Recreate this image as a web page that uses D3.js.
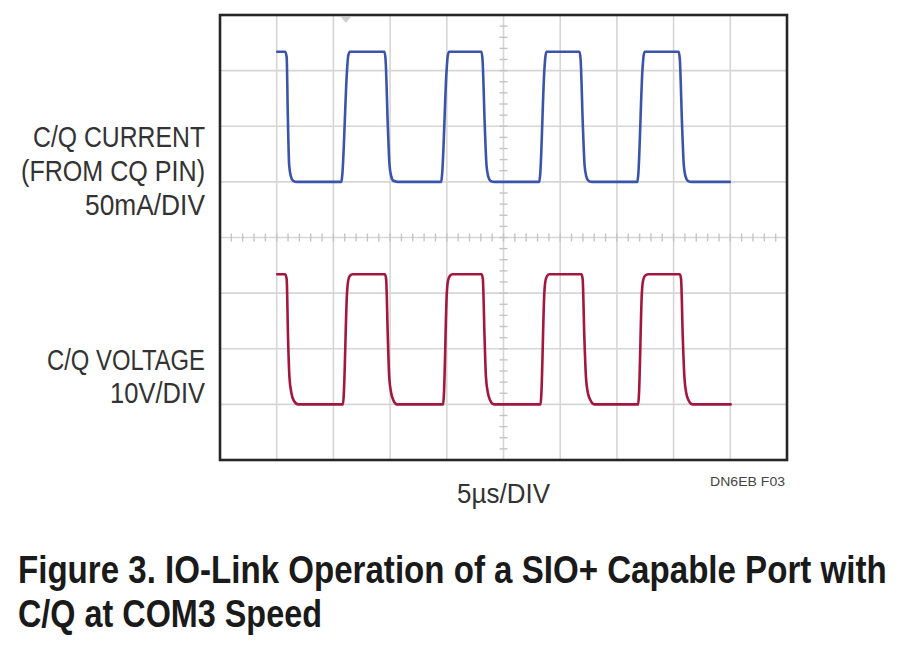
<!DOCTYPE html>
<html>
<head>
<meta charset="utf-8">
<script src="https://cdn.jsdelivr.net/npm/d3@7"></script>
<style>
  html, body { margin: 0; padding: 0; background: #ffffff; }
  svg { display: block; }
</style>
</head>
<body>
<svg id="chart" width="900" height="645"></svg>
<script>
// ---- Data ----
// Time axis: 5 µs/DIV, 10 divisions
const timeTicks = [0, 5, 10, 15, 20, 25, 30, 35, 40, 45, 50];
const divTicks = [-4, -3, -2, -1, 0, 1, 2, 3, 4];

// C/Q current (mA), 50 mA/DIV, zero reference at +1 div
const currentTimes  = [5.05, 5.75, 5.88, 5.98, 6.1, 6.25, 6.45, 6.8,
  10.7, 10.78, 11.2, 11.3, 11.45,
  14.5, 14.6, 14.8, 14.95, 15.1, 15.3, 15.7,
  19.5, 19.58, 19.98, 20.08, 20.2,
  23.05, 23.15, 23.35, 23.5, 23.65, 23.85, 24.2,
  28.15, 28.23, 28.6, 28.7, 28.8,
  31.7, 31.8, 32.0, 32.15, 32.3, 32.5, 32.85,
  36.8, 36.88, 37.25, 37.35, 37.45,
  40.45, 40.55, 40.75, 40.9, 41.05, 41.25, 41.6,
  44.95];
const currentValues = [117, 117, 112, 60, 15, 5, 1, 0,
  0, 6, 100, 113, 117,
  117, 110, 50, 15, 5, 1, 0,
  0, 6, 100, 113, 117,
  117, 110, 50, 15, 5, 1, 0,
  0, 6, 100, 113, 117,
  117, 110, 50, 15, 5, 1, 0,
  0, 6, 100, 113, 117,
  117, 110, 50, 15, 5, 1, 0,
  0];

// C/Q voltage (V), 10 V/DIV, zero reference at -3 div
const voltageTimes  = [5.05, 5.75, 5.88, 6.0, 6.12, 6.3, 6.5, 6.9,
  10.85, 10.92, 11.2, 11.3, 11.45, 11.7,
  14.55, 14.65, 14.8, 14.92, 15.1, 15.3, 15.6,
  19.68, 19.75, 20.0, 20.1, 20.27, 20.52,
  23.08, 23.18, 23.33, 23.45, 23.63, 23.83, 24.15,
  28.27, 28.34, 28.6, 28.7, 28.85, 29.05,
  31.88, 31.98, 32.13, 32.27, 32.45, 32.68, 33.0,
  36.88, 36.95, 37.2, 37.3, 37.47, 37.75,
  40.56, 40.66, 40.81, 40.95, 41.12, 41.33, 41.65,
  45.03];
const voltageValues = [23.4, 23.4, 22.5, 12, 5, 2, 0.7, 0,
  0, 2, 20, 22.2, 23.1, 23.4,
  23.4, 22.5, 12, 5, 2, 0.7, 0,
  0, 2, 20, 22.2, 23.1, 23.4,
  23.4, 22.5, 12, 5, 2, 0.7, 0,
  0, 2, 20, 22.2, 23.1, 23.4,
  23.4, 22.5, 12, 5, 2, 0.7, 0,
  0, 2, 20, 22.2, 23.1, 23.4,
  23.4, 22.5, 12, 5, 2, 0.7, 0,
  0];

const currentLabel = ["C/Q CURRENT", "(FROM CQ PIN)", "50mA/DIV"];
const voltageLabel = ["C/Q VOLTAGE", "10V/DIV"];
const xLabel = "5µs/DIV";
const figCode = "DN6EB F03";
const caption = ["Figure 3. IO-Link Operation of a SIO+ Capable Port with", "C/Q at COM3 Speed"];

// ---- Drawing ----
const svg = d3.select("#chart");
const L = 220, R = 787, T = 15, B = 460;

const x = d3.scaleLinear().domain([0, 50]).range([L, R]);
const yDiv = d3.scaleLinear().domain([-4, 4]).range([B, T]);
const yCur = d3.scaleLinear().domain([-250, 150]).range([B, T]);
const yVolt = d3.scaleLinear().domain([-10, 70]).range([B, T]);

const grid = svg.append("g");
grid.selectAll("line.v").data(timeTicks.slice(1, -1)).enter().append("line")
  .attr("x1", d => x(d)).attr("x2", d => x(d))
  .attr("y1", T).attr("y2", B)
  .attr("stroke", "#d6d6d6").attr("stroke-width", 1.6);
grid.selectAll("line.h").data(divTicks.slice(1, -1)).enter().append("line")
  .attr("x1", L).attr("x2", R)
  .attr("y1", d => yDiv(d)).attr("y2", d => yDiv(d))
  .attr("stroke", "#d6d6d6").attr("stroke-width", 1.6);

// minor ticks on the centre axes (5 per division)
const hMinor = d3.range(0, 50.01, 1);
grid.selectAll("line.hm").data(hMinor).enter().append("line")
  .attr("x1", d => x(d)).attr("x2", d => x(d))
  .attr("y1", yDiv(0) - 4).attr("y2", yDiv(0) + 4)
  .attr("stroke", "#c4c4c4").attr("stroke-width", 1.4);
const vMinor = d3.range(-4, 4.01, 0.2);
grid.selectAll("line.vm").data(vMinor).enter().append("line")
  .attr("x1", x(25) - 4).attr("x2", x(25) + 4)
  .attr("y1", d => yDiv(d)).attr("y2", d => yDiv(d))
  .attr("stroke", "#c4c4c4").attr("stroke-width", 1.4);

// trigger marker
svg.append("path")
  .attr("d", `M${x(11.1) - 5},${T + 2} L${x(11.1) + 5},${T + 2} L${x(11.1)},${T + 8} Z`)
  .attr("fill", "#cfcfcf");

// traces
const curData = currentTimes.map((t, i) => [t, currentValues[i]]);
const voltData = voltageTimes.map((t, i) => [t, voltageValues[i]]);

svg.append("path").datum(curData)
  .attr("fill", "none").attr("stroke", "#3a54ab").attr("stroke-width", 2.6)
  .attr("stroke-linejoin", "round").attr("stroke-linecap", "round")
  .attr("d", d3.line().x(d => x(d[0])).y(d => yCur(d[1])).curve(d3.curveMonotoneX));

svg.append("path").datum(voltData)
  .attr("fill", "none").attr("stroke", "#a3173f").attr("stroke-width", 2.6)
  .attr("stroke-linejoin", "round").attr("stroke-linecap", "round")
  .attr("d", d3.line().x(d => x(d[0])).y(d => yVolt(d[1])).curve(d3.curveMonotoneX));

// frame
svg.append("rect").attr("x", L).attr("y", T).attr("width", R - L).attr("height", B - T)
  .attr("fill", "none").attr("stroke", "#262626").attr("stroke-width", 2.6);

// text: condensed by horizontal scaling to the measured width
const font = "'Liberation Sans', Arial, sans-serif";
function txt(str, xp, yb, size, len, anchor, weight, color) {
  const g = svg.append("g");
  const t = g.append("text")
    .attr("x", 0).attr("y", 0)
    .attr("text-anchor", anchor)
    .attr("font-family", font).attr("font-size", size)
    .attr("font-weight", weight || "normal")
    .attr("fill", color || "#333333")
    .text(str);
  const natural = t.node().getComputedTextLength() || len;
  const s = len / natural;
  g.attr("transform", `translate(${xp},${yb}) scale(${s},1)`);
}
const curLens = [172, 184, 120];
const curBase = [147, 181, 215];
currentLabel.forEach((s, i) => txt(s, 205, curBase[i], 29, curLens[i], "end"));
const voltLens = [158, 95];
const voltBase = [370, 403];
voltageLabel.forEach((s, i) => txt(s, 205, voltBase[i], 29, voltLens[i], "end"));

txt(xLabel, 457, 503, 27, 93, "start");
txt(figCode, 785, 486, 13.5, 75, "end", "normal", "#444");

txt(caption[0], 18, 583, 39, 869, "start", "bold", "#1a1a1a");
txt(caption[1], 18, 627, 39, 304, "start", "bold", "#1a1a1a");
</script>
</body>
</html>
